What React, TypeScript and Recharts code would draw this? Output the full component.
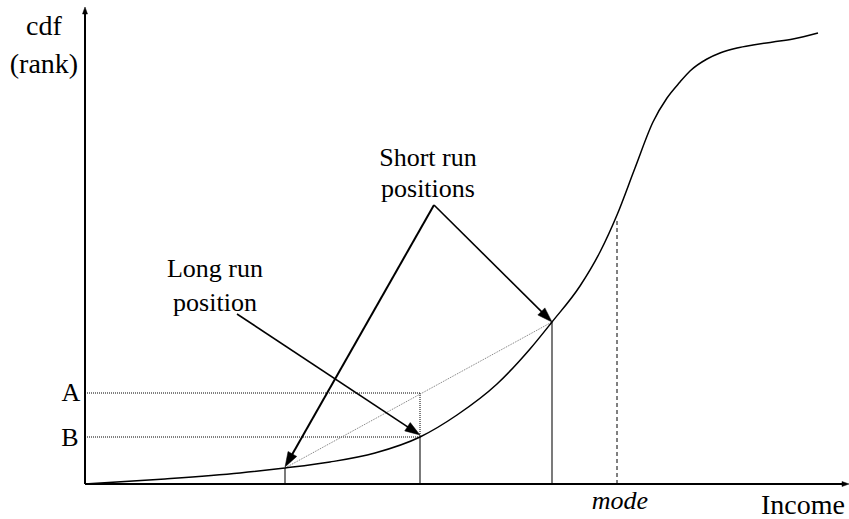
import React from "react";
import { ComposedChart, Line, XAxis, YAxis, ReferenceLine, ReferenceDot } from "recharts";

// cdf curve (income units, cdf/rank units)
const curveIncome = [0, 80, 155, 200, 245, 290, 335, 372, 412, 445, 467, 495, 515, 532, 550, 568, 582, 595, 605, 622, 635, 652, 668, 688, 708, 733];
const curveCdf = [0, 5, 11, 16, 22, 31, 47, 69, 100, 135, 162, 198, 232, 269, 316, 362, 386, 402, 413, 425, 431, 436, 439, 442, 445, 451];

// key positions
const longRun = { x: 200, y: 16 };
const longRunShort = { x: 335, y: 47 };
const shortRun = { x: 467, y: 162 };
const levelA = 91;
const levelB = 47;
const modeIncome = 532;
const modeCdf = 265;
const calloutApex = { x: 349, y: 279 };
const longCalloutStart = { x: 152, y: 170 };

// text labels
const labelTexts = ["cdf", "(rank)", "Short run", "positions", "Long run", "position", "A", "B", "mode", "Income"];
const labelX = [-41, -41, 343, 343, 130, 130, -14, -15, 535, 718];
const labelY = [449, 411, 318, 287, 207, 173, 83, 38, -25, -30];
const labelSize = [28, 28, 26, 26, 26, 26, 26, 26, 26, 28];
const labelItalic = [false, false, false, false, false, false, false, false, true, false];

const X_MAX = 764;
const Y_MAX = 477;

const data = curveIncome.map((x, i) => ({ x, y: curveCdf[i] }));
const FONT = "'Liberation Serif', 'Times New Roman', serif";

function arrowShape(headLen: number, headW: number, sw: number) {
  return (p: any) => {
    const { x1, y1, x2, y2 } = p;
    const dx = x2 - x1;
    const dy = y2 - y1;
    const L = Math.hypot(dx, dy) || 1;
    const ux = dx / L;
    const uy = dy / L;
    const bx = x2 - ux * headLen;
    const by = y2 - uy * headLen;
    const px = -uy;
    const py = ux;
    const pts = `${x2},${y2} ${bx + (px * headW) / 2},${by + (py * headW) / 2} ${bx - (px * headW) / 2},${by - (py * headW) / 2}`;
    return (
      <g>
        <line x1={x1} y1={y1} x2={bx + ux * 2} y2={by + uy * 2} stroke="#000" strokeWidth={sw} />
        <polygon points={pts} fill="#000" stroke="#000" strokeWidth={0.5} />
      </g>
    );
  };
}

function textShape(t: string, size: number, italic: boolean) {
  return (p: any) => (
    <text
      x={p.cx}
      y={p.cy}
      textAnchor="middle"
      fontFamily={FONT}
      fontSize={size}
      fontStyle={italic ? "italic" : "normal"}
      fill="#000"
    >
      {t}
    </text>
  );
}

export default function App() {
  return (
    <div style={{ position: "absolute", left: 0, top: 0 }}>
      <ComposedChart
        width={849}
        height={519}
        data={data}
        margin={{ top: 7, right: 0, bottom: 35, left: 85 }}
      >
        <XAxis type="number" dataKey="x" domain={[0, X_MAX]} allowDataOverflow hide />
        <YAxis type="number" domain={[0, Y_MAX]} allowDataOverflow hide width={0} />

        {/* guide lines */}
        <ReferenceLine segment={[{ x: 0, y: levelA }, { x: longRunShort.x, y: levelA }]} stroke="#000" strokeWidth={1} strokeDasharray="1 1" ifOverflow="visible" />
        <ReferenceLine segment={[{ x: 0, y: levelB }, { x: longRunShort.x, y: levelB }]} stroke="#000" strokeWidth={1} strokeDasharray="1 1" ifOverflow="visible" />
        <ReferenceLine segment={[{ x: longRunShort.x, y: levelA }, { x: longRunShort.x, y: levelB }]} stroke="#000" strokeWidth={1} strokeDasharray="1 1" ifOverflow="visible" />
        <ReferenceLine segment={[longRun, shortRun]} stroke="#777" strokeWidth={1} strokeDasharray="1 1" ifOverflow="visible" />
        <ReferenceLine segment={[{ x: longRun.x, y: 0 }, longRun]} stroke="#222" strokeWidth={1.2} ifOverflow="visible" />
        <ReferenceLine segment={[{ x: longRunShort.x, y: 0 }, longRunShort]} stroke="#222" strokeWidth={1.2} ifOverflow="visible" />
        <ReferenceLine segment={[{ x: shortRun.x, y: 0 }, shortRun]} stroke="#222" strokeWidth={1.2} ifOverflow="visible" />
        <ReferenceLine segment={[{ x: modeIncome, y: 0 }, { x: modeIncome, y: modeCdf }]} stroke="#000" strokeWidth={1} strokeDasharray="4 3" ifOverflow="visible" />

        {/* cdf curve */}
        <Line type="monotone" dataKey="y" stroke="#000" strokeWidth={1.5} dot={false} isAnimationActive={false} />

        {/* axes with arrows */}
        <ReferenceLine segment={[{ x: 0, y: 0 }, { x: 0, y: Y_MAX }]} shape={arrowShape(7, 5, 2)} ifOverflow="visible" />
        <ReferenceLine segment={[{ x: 0, y: 0 }, { x: X_MAX, y: 0 }]} shape={arrowShape(7, 5, 2)} ifOverflow="visible" />

        {/* annotation arrows */}
        <ReferenceLine segment={[calloutApex, { x: longRun.x, y: longRun.y + 1 }]} shape={arrowShape(15, 10, 2)} ifOverflow="visible" />
        <ReferenceLine segment={[calloutApex, shortRun]} shape={arrowShape(15, 10, 1.6)} ifOverflow="visible" />
        <ReferenceLine segment={[longCalloutStart, { x: longRunShort.x, y: longRunShort.y + 2 }]} shape={arrowShape(15, 10, 1.6)} ifOverflow="visible" />

        {/* labels */}
        {labelTexts.map((t, i) => (
          <ReferenceDot
            key={t}
            x={labelX[i]}
            y={labelY[i]}
            r={0}
            ifOverflow="visible"
            shape={textShape(t, labelSize[i], labelItalic[i])}
          />
        ))}
      </ComposedChart>
    </div>
  );
}
